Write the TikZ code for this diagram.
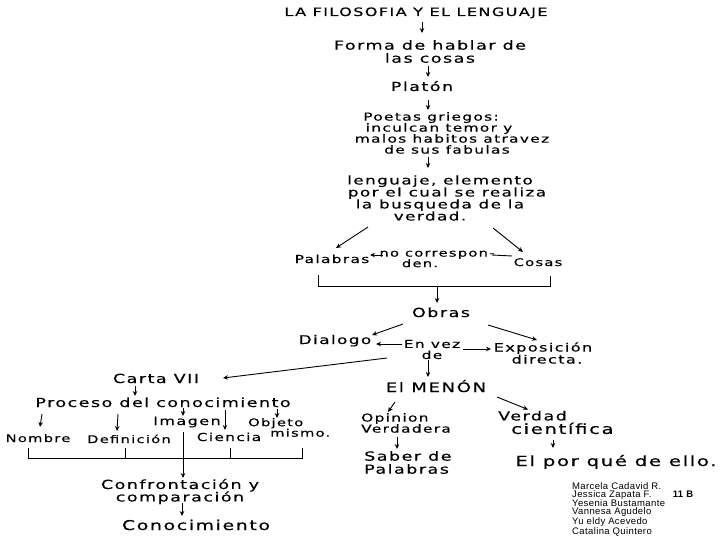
\documentclass[tikz,border=0pt]{standalone}
\usepackage{fontspec}
\setmainfont{DejaVu Sans}
\newfontfamily\hand{DejaVu Sans}[FakeStretch=1.4, LetterSpace=12, FakeBold=0.4]
\newfontfamily\typed{Liberation Sans}[LetterSpace=4]
\newcommand\tightls{\lineskiplimit-30pt\relax}
\newcommand\hsz[2]{\hand\fontsize{#1}{#2}\selectfont\tightls}
\usetikzlibrary{arrows.meta}
\begin{document}
\begin{tikzpicture}[x=1pt,y=-1pt,
  hw/.style={font=\hsz{12.5}{13}, inner sep=1pt, align=center, text=black},
  one/.style={hw, text height=9pt, text depth=3pt},
  arr/.style={-{Stealth[length=5pt,width=4.5pt]}, line width=0.9pt},
  ln/.style={line width=0.9pt}]
\useasboundingbox[fill=white] (0,0) rectangle (720,540);

% top column
\node[one, font=\hsz{11.5}{12}] (title) at (416,13) {LA FILOSOFIA Y EL LENGUAJE};
\node[hw] (forma) at (430,51.5) {Forma de hablar de\\las cosas};
\node[one] (platon) at (422,88) {Platón};
\node[hw, font=\hsz{11}{11}] (poetas) at (439,133)
  {Poetas griegos:\hspace*{16pt}\\inculcan temor y\hspace*{26pt}\\\hspace*{26pt}malos habitos atravez\\\hspace*{16pt}de sus fabulas};
\node[hw, font=\hsz{12}{12}] (lenguaje) at (440,198)
  {lenguaje, elemento\\\hspace*{14pt}por el cual se realiza\\la busqueda de la\hspace*{12pt}\\verdad.\hspace*{20pt}};

\node[one, font=\hsz{11}{11}] (palabras) at (332,260) {Palabras};
\node[hw, font=\hsz{10.5}{10.5}] (nocorr) at (437,259) {no correspon-\\den.\hspace*{34pt}};
\node[one, font=\hsz{10.5}{11}] (cosas) at (538,263) {Cosas};
\node[one] (obras) at (441,314) {Obras};
\node[one, font=\hsz{12}{12}] (dialogo) at (335,341) {Dialogo};
\node[hw, font=\hsz{11}{11}] (envez) at (432,349.5) {En vez\\de};
\node[hw, font=\hsz{11.5}{12}] (expos) at (543,353) {Exposición\\\hspace*{8pt}directa.};

% left branch
\node[one] (carta) at (156,380) {Carta VII};
\node[one] (proceso) at (163,404) {Proceso del conocimiento};
\node[one, font=\hsz{10.5}{11}] (nombre) at (38,439) {Nombre};
\node[one, font=\hsz{10.5}{11}] (definicion) at (129,440) {Definición};
\node[one, font=\hsz{11.5}{11}] (imagen) at (187,422) {Imagen};
\node[one, font=\hsz{11}{11}] (ciencia) at (229,438) {Ciencia};
\node[hw, font=\hsz{10.5}{10.5}, align=left, anchor=west] (objeto) at (247,427.5) {Objeto\\\hspace*{22pt}mismo.};
\node[hw, font=\hsz{12.5}{12.5}] (confront) at (180,491.5) {Confrontación y\\comparación};
\node[one, font=\hsz{13.5}{13}] (conoc) at (196,527) {Conocimiento};

% right branch
\node[one, font=\hsz{13}{13}] (menon) at (436,389) {El MENÓN};
\node[hw, font=\hsz{11}{11}, align=left, anchor=west] (opinion) at (360,423) {Opinion\\Verdadera};
\node[hw, font=\hsz{12.5}{13}, align=left, anchor=west] (saber) at (363,462.5) {Saber de\\Palabras};
\node[hw, font=\hsz{12.5}{13.5}, align=left, anchor=west] (verdad) at (497,422.5) {Verdad\\\hspace*{13pt}\fontsize{14}{13.5}\selectfont científica};
\node[one, font=\hsz{14}{13}] (porque) at (616,463) {El por qué de ello.};

% authors
\node[font=\typed\fontsize{9.5}{8}\selectfont, align=left, anchor=north west, inner sep=0pt] (names) at (572,482)
  {Marcela Cadavid R.\\Jessica Zapata F.\\Yesenia Bustamante\\Vannesa Agudelo\\Yu eldy Acevedo\\Catalina Quintero};
\node[font=\typed\bfseries\fontsize{9.5}{8}\selectfont, inner sep=0pt] (grupo) at (683,494) {11 B};

% connectors
\draw[arr] ([shift={(6,9)}]title.center) -- ([shift={(-8,-18.5)}]forma.center);
\draw[arr] ([shift={(-2,14.5)}]forma.center) -- ([shift={(6,-11)}]platon.center);
\draw[arr] ([shift={(6,12)}]platon.center) -- ([shift={(-11,-23)}]poetas.center);
\draw[arr] ([shift={(-11,24)}]poetas.center) -- ([shift={(-12,-30)}]lenguaje.center);
\draw[arr] ([shift={(-72,29)}]lenguaje.center) -- ([shift={(4,-12)}]palabras.center);
\draw[arr] ([shift={(53,30)}]lenguaje.center) -- ([shift={(-15,-11)}]cosas.center);
\draw[arr] ([shift={(-54,-4)}]nocorr.center) -- ([shift={(38,-5)}]palabras.center);
\draw[ln] ([shift={(55,-4)}]nocorr.center) -- ([shift={(-26,-7)}]cosas.center);
\draw[ln] ([shift={(-14,15)}]palabras.center) -- ([shift={(-14,26)}]palabras.center)
  -- ([shift={(12,23)}]cosas.center) -- ([shift={(12,13)}]cosas.center);
\coordinate (brk) at (437,286);
\draw[arr] (brk) -- ([shift={(-4,-11)}]obras.center);
\draw[arr] ([shift={(-38,10)}]obras.center) -- ([shift={(37,-6)}]dialogo.center);
\draw[arr] ([shift={(47,11)}]obras.center) -- ([shift={(-6,-13)}]expos.center);
\draw[arr] ([shift={(-30,-5.5)}]envez.center) -- ([shift={(41,3)}]dialogo.center);
\draw[arr] ([shift={(31,-0.5)}]envez.center) -- ([shift={(-52,-4)}]expos.center);
\draw[arr] ([shift={(-45,8.5)}]envez.center) -- ([shift={(67,-2)}]carta.center);
\draw[arr] ([shift={(-4,10.5)}]envez.center) -- ([shift={(-8,-12)}]menon.center);

\draw[arr] ([shift={(-21,6)}]carta.center) -- ([shift={(-28,-8)}]proceso.center);
\draw[arr] ([shift={(-121,10)}]proceso.center) -- ([shift={(2,-12)}]nombre.center);
\draw[arr] ([shift={(-45,10)}]proceso.center) -- ([shift={(-12,-9)}]definicion.center);
\draw[arr] ([shift={(20,4)}]proceso.center) -- ([shift={(-4,-6)}]imagen.center);
\draw[arr] ([shift={(62,6)}]proceso.center) -- ([shift={(-4,-8)}]ciencia.center);
\draw[arr] ([shift={(114,5)}]proceso.center) -- ([shift={(30,-9.5)}]objeto.west);
\draw[ln] ([shift={(-10,9)}]nombre.center) -- ([shift={(-10,19)}]nombre.center)
  -- ([shift={(55,30.5)}]objeto.west) -- ([shift={(55,20.5)}]objeto.west);
\draw[ln] ([shift={(-4,8)}]definicion.center) -- ([shift={(-4,18)}]definicion.center);
\draw[ln] ([shift={(1,10)}]ciencia.center) -- ([shift={(1,20)}]ciencia.center);
\draw[arr] ([shift={(-4,10)}]imagen.center) -- ([shift={(3,-13.5)}]confront.center);
\draw[arr] ([shift={(2,11.5)}]confront.center) -- ([shift={(-14,-11)}]conoc.center);

\draw[arr] ([shift={(-41,13)}]menon.center) -- ([shift={(28,-11)}]opinion.west);
\draw[arr] ([shift={(61,8)}]menon.center) -- ([shift={(31,-13)}]verdad.west);
\draw[arr] ([shift={(37,14)}]opinion.west) -- ([shift={(34,-13.5)}]saber.west);
\draw[arr] ([shift={(56,17)}]verdad.west) -- ([shift={(-63,-15)}]porque.center);
\end{tikzpicture}
\end{document}
